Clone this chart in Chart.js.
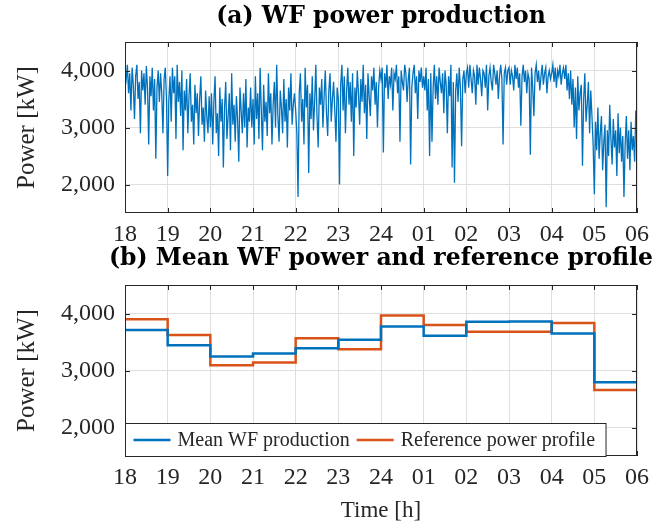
<!DOCTYPE html>
<html>
<head>
<meta charset="utf-8">
<script src="https://cdn.jsdelivr.net/npm/chart.js@4.4.1/dist/chart.umd.min.js"></script>
<style>
  body { margin: 0; background: #fff; }
  canvas { display: block; }
</style>
</head>
<body>
<canvas id="powerChart" width="656" height="245"></canvas>
<canvas id="profileChart" width="656" height="280"></canvas>
<script>
// Hour labels on the time axis (18:00 -> 06:00)
var hourLabels = ['18', '19', '20', '21', '22', '23', '24', '01', '02', '03', '04', '05', '06'];

// Wind farm power production [kW], 36 samples per hour
var samplesPerHour = 36;
var windPower = [
  // 18
  4000, 3850, 4100, 3600, 3950, 3300, 4050, 3750, 3150, 3900, 4100, 3500, 3800, 2900, 4000, 3650, 3950, 3400,
  4080, 3700, 2700, 3900, 3550, 4050, 3300, 3850, 2450, 3700, 4000, 3450, 3950, 3600, 2900, 3850, 4050, 3500,
  // 19
  2150, 3500, 3900, 3100, 4050, 3600, 3900, 2800, 4100, 3450, 3800, 3200, 4000, 2600, 3650, 3300, 3850, 2900,
  3550, 3950, 3100, 3400, 2700, 3750, 3250, 3600, 2850, 3500, 3900, 3050, 3350, 2750, 3650, 3200, 2900, 3550,
  // 20
  3000, 3600, 2700, 3450, 3900, 2900, 3250, 2500, 3700, 3100, 3500, 2300, 3350, 3800, 2800, 3200, 3600, 2600,
  3950, 3050, 3400, 2750, 3550, 3150, 2400, 3700, 3300, 2900, 3600, 3000, 3850, 2650, 3350, 3100, 3700, 3000,
  // 21
  3500, 2700, 3900, 3150, 3600, 2800, 4050, 3300, 2600, 3750, 3100, 3450, 2850, 3950, 3250, 3600, 2700, 3400,
  3800, 3000, 4100, 3200, 2750, 3650, 3350, 2900, 3850, 3100, 3500, 2650, 3700, 3300, 3950, 3050, 3400, 3600,
  // 22
  3300, 2900, 1780, 3600, 3950, 3100, 3500, 2700, 4050, 3350, 3750, 2200, 3600, 3150, 3900, 2950, 3450, 4100,
  3200, 2650, 3700, 3400, 3850, 3000, 3550, 4000, 3250, 2850, 3650, 3950, 3100, 3500, 3800, 3300, 2750, 3700,
  // 23
  3500, 2000, 3750, 4100, 3300, 3900, 2900, 3650, 4050, 3400, 3800, 3100, 3950, 2500, 3700, 3350, 4000, 3600,
  3050, 3850, 3450, 4100, 3250, 3750, 2800, 3950, 3550, 3200, 3900, 3650, 4050, 3400, 3800, 3000, 3700, 4000,
  // 24
  3850, 4050, 2560, 3950, 3700, 4100, 3500, 3900, 3750, 4050, 3300, 3950, 3850, 4100, 3600, 3900, 2750, 4000,
  3800, 3650, 4100, 3950, 3450, 3850, 4050, 2350, 3700, 3950, 4100, 3600, 3900, 3150, 4000, 3800, 4050, 3700,
  // 01
  3900, 3650, 4050, 3300, 3850, 2500, 3950, 2750, 3700, 4100, 3500, 3900, 3400, 4050, 3800, 3600, 3950, 3250,
  4000, 3750, 2900, 3900, 3550, 4100, 2300, 3800, 2030, 3650, 3950, 3450, 4050, 3700, 2670, 3850, 4000, 3600,
  // 02
  3950, 4050, 3700, 4100, 3850, 3600, 4000, 3900, 3400, 4100, 3750, 4050, 3850, 3550, 4000, 3950, 3700, 4100,
  3300, 3900, 4050, 3800, 3650, 4100, 3950, 3750, 4000, 3500, 3900, 4100, 3850, 2700, 3950, 4050, 3750, 4000,
  // 03
  4050, 3750, 4000, 3900, 3650, 4100, 3850, 4050, 3700, 3950, 3030, 3900, 4100, 3800, 4000, 3600, 3950, 3850,
  2520, 4050, 3700, 3200, 3950, 4100, 3800, 4000, 3650, 3900, 4100, 3750, 3950, 4050, 3600, 3900, 4000, 3850,
  // 04
  3950, 4100, 3800, 4050, 3700, 4000, 3900, 4100, 3750, 3950, 4050, 3850, 4100, 3650, 3950, 3500, 4000, 3400,
  3850, 3000, 3700, 2800, 3900, 3300, 3600, 3750, 2330, 3500, 3950, 3100, 3400, 3800, 2900, 3650, 3200, 2700,
  // 05
  1830, 3100, 2600, 3350, 2450, 2900, 3200, 2250, 2750, 3050, 1600, 2950, 2500, 3400, 2800, 2350, 3150, 2650,
  2950, 2150, 3250, 2550, 3000, 2400, 2850, 1780, 2700, 3200, 2450, 2950, 2250, 3100, 2600, 2850, 2400, 3300,
  // 06
  2700
];

// Hourly mean WF production and reference profile [kW]
var meanPower = [3710, 3445, 3245, 3300, 3390, 3540, 3770, 3610, 3855, 3860, 3650, 2795];
var refPower = [3900, 3625, 3090, 3140, 3565, 3375, 3965, 3800, 3680, 3680, 3835, 2660];

var yTicks = [2000, 3000, 4000];

var blue = '#0072BD';
var orange = '#D95319';
var serif = '"Liberation Serif", "Times New Roman", serif';
var titleFont = 'bold 23.5px "DejaVu Serif", serif';

// points for a stepped line: each hourly value holds until the next hour
function stepPoints(values) {
  var pts = values.map(function(v, i) { return { x: i, y: v }; });
  pts.push({ x: values.length, y: values[values.length - 1] });
  return pts;
}

// title centred over the axes, not the whole canvas
function axesTitle(text, centerY) {
  return {
    id: 'axesTitle',
    afterDraw: function(chart) {
      var ctx = chart.ctx;
      var a = chart.chartArea;
      ctx.save();
      ctx.font = titleFont;
      ctx.fillStyle = '#000';
      ctx.textAlign = 'center';
      ctx.textBaseline = 'middle';
      ctx.fillText(text, (a.left + a.right) / 2, centerY);
      ctx.restore();
    }
  };
}

// axes box with small inward tick marks (MATLAB style)
var frameBox = {
  id: 'frameBox',
  afterDraw: function(chart) {
    var ctx = chart.ctx;
    var a = chart.chartArea;
    var xs = chart.scales.x, ys = chart.scales.y;
    var len = 5;
    ctx.save();
    ctx.strokeStyle = '#262626';
    ctx.lineWidth = 1;
    ctx.beginPath();
    xs.ticks.forEach(function(t) {
      var px = Math.round(xs.getPixelForValue(t.value)) + 0.5;
      ctx.moveTo(px, a.top); ctx.lineTo(px, a.top + len);
      ctx.moveTo(px, a.bottom); ctx.lineTo(px, a.bottom - len);
    });
    ys.ticks.forEach(function(t) {
      var py = Math.round(ys.getPixelForValue(t.value)) + 0.5;
      ctx.moveTo(a.left, py); ctx.lineTo(a.left + len, py);
      ctx.moveTo(a.right, py); ctx.lineTo(a.right - len, py);
    });
    ctx.stroke();
    ctx.strokeRect(Math.round(a.left) + 0.5, Math.round(a.top) + 0.5,
                   Math.round(a.width) - 1, Math.round(a.height) - 1);
    ctx.restore();
  }
};

// legend inside the lower edge of the axes, horizontal
var legendBox = {
  id: 'legendBox',
  afterDraw: function(chart) {
    var ctx = chart.ctx;
    var a = chart.chartArea;
    var sets = chart.data.datasets;
    var h = 33, sample = 37, gap = 7;
    ctx.save();
    ctx.font = '20px ' + serif;
    var w = 8;
    sets.forEach(function(ds, i) {
      w += sample + gap + ctx.measureText(ds.label).width + (i < sets.length - 1 ? gap : 11);
    });
    var left = Math.round(a.left) + 0.5;
    var top = Math.round(a.bottom - h) + 0.5;
    ctx.fillStyle = '#fff';
    ctx.fillRect(left, top, w, h);
    ctx.strokeStyle = '#262626';
    ctx.lineWidth = 1;
    ctx.strokeRect(left, top, w, h);
    var x = left + 8;
    var cy = top + h / 2;
    sets.forEach(function(ds) {
      ctx.strokeStyle = ds.borderColor;
      ctx.lineWidth = ds.borderWidth;
      ctx.beginPath();
      ctx.moveTo(x, cy); ctx.lineTo(x + sample, cy);
      ctx.stroke();
      x += sample + gap;
      ctx.fillStyle = '#262626';
      ctx.textBaseline = 'middle';
      ctx.fillText(ds.label, x, cy + 1);
      x += ctx.measureText(ds.label).width + gap;
    });
    ctx.restore();
  }
};

function makeScales(xHeight, xTitle) {
  var x = {
    type: 'linear',
    min: 0,
    max: 12,
    afterFit: function(s) { s.height = xHeight; },
    grid: { color: '#dfdfdf', drawTicks: false },
    border: { display: false },
    ticks: {
      stepSize: 1,
      padding: 7,
      color: '#262626',
      font: { family: serif, size: 24 },
      maxRotation: 0,
      callback: function(v) { return hourLabels[v]; }
    }
  };
  if (xTitle) {
    x.title = { display: true, text: xTitle, color: '#262626',
                font: { family: serif, size: 23 }, padding: { top: 0, bottom: 0 } };
  }
  var y = {
    min: 1500,
    max: 4500,
    afterFit: function(s) { s.width = 117; },
    afterBuildTicks: function(s) { s.ticks = yTicks.map(function(v) { return { value: v }; }); },
    grid: { color: '#dfdfdf', drawTicks: false },
    border: { display: false },
    ticks: {
      padding: 10,
      color: '#262626',
      font: { family: serif, size: 24 },
      callback: function(v) { return v.toLocaleString('en-US'); }
    },
    title: { display: true, text: 'Power [kW]', color: '#262626',
             font: { family: serif, size: 25 }, padding: { top: 4, bottom: 0 } }
  };
  return { x: x, y: y };
}

new Chart(document.getElementById('powerChart'), {
  type: 'line',
  data: {
    datasets: [{
      label: 'WF power production',
      data: windPower.map(function(v, i) { return { x: i / samplesPerHour, y: v }; }),
      borderColor: blue,
      borderWidth: 1.3,
      pointRadius: 0,
      tension: 0
    }]
  },
  options: {
    responsive: false,
    animation: false,
    layout: { padding: { left: 8, right: 16, top: 42, bottom: 0 } },
    plugins: {
      legend: { display: false },
      tooltip: { enabled: false }
    },
    scales: makeScales(32, null)
  },
  plugins: [frameBox, axesTitle('(a) WF power production', 17)]
});

new Chart(document.getElementById('profileChart'), {
  type: 'line',
  data: {
    datasets: [{
      label: 'Mean WF production',
      data: stepPoints(meanPower),
      borderColor: blue,
      borderWidth: 2.5,
      pointRadius: 0,
      stepped: 'before'
    }, {
      label: 'Reference power profile',
      data: stepPoints(refPower),
      borderColor: orange,
      borderWidth: 2.5,
      pointRadius: 0,
      stepped: 'before'
    }]
  },
  options: {
    responsive: false,
    animation: false,
    layout: { padding: { left: 8, right: 16, top: 40, bottom: 0 } },
    plugins: {
      legend: { display: false },
      tooltip: { enabled: false }
    },
    scales: makeScales(69, 'Time [h]')
  },
  plugins: [frameBox, legendBox, axesTitle('(b) Mean WF power and reference profile', 13.5)]
});
</script>
</body>
</html>
